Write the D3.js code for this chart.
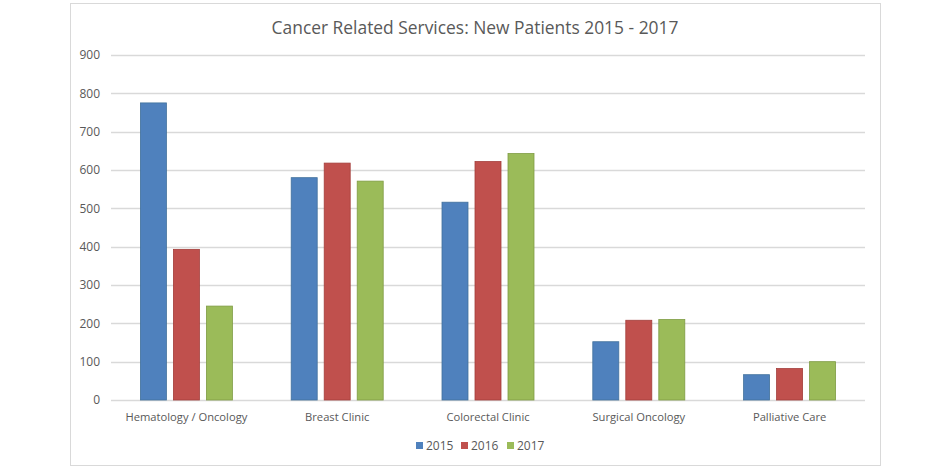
<!DOCTYPE html>
<html><head><meta charset="utf-8">
<script src="https://cdn.jsdelivr.net/npm/d3@7"></script>
<style>body{margin:0;background:#fff;}svg{display:block;font-family:"Open Sans",sans-serif;}</style>
</head><body><svg id="c" width="940" height="470"></svg>
<script>
const categories = ["Hematology / Oncology","Breast Clinic","Colorectal Clinic","Surgical Oncology","Palliative Care"];
const seriesNames = ["2015","2016","2017"];
const values2015 = [775, 580, 516, 152, 66];
const values2016 = [393, 618, 622, 208, 82];
const values2017 = [245, 571, 643, 210, 100];
const yTicks = [0,100,200,300,400,500,600,700,800,900];
const colors = ["#4F81BD","#C0504D","#9BBB59"];
const strokes = ["#41719C","#A33E3B","#7F9C44"];
const seriesValues = [values2015, values2016, values2017];

const svg = d3.select("#c");
svg.append("rect").attr("x",70.5).attr("y",3.5).attr("width",810).attr("height",462).attr("fill","#fff").attr("stroke","#d9d9d9");

const x0 = d3.scaleBand().domain(categories).range([111, 865]).paddingInner(0).paddingOuter(0);
const x1 = d3.scaleBand().domain(seriesNames).range([0, 92]).paddingInner(7/33).paddingOuter(0);
const y = d3.scaleLinear().domain([0,900]).range([400, 55]);

// gridlines
svg.append("g").selectAll("line").data(yTicks).join("line")
  .attr("x1",111).attr("x2",865).attr("y1",d=>Math.round(y(d))+0.5).attr("y2",d=>Math.round(y(d))+0.5)
  .attr("stroke","#d9d9d9").attr("stroke-width",1.3);

// y axis labels
const yAxis = d3.axisLeft(y).tickValues(yTicks).tickSize(0).tickPadding(0);
const ga = svg.append("g").attr("transform","translate(100,0)").call(yAxis);
ga.select(".domain").remove();
ga.selectAll("text").attr("fill","#595959").style("font-size","12px").style("font-family","'Open Sans',sans-serif");

// bars
const groups = svg.append("g").selectAll("g").data(categories).join("g")
  .attr("transform", d => `translate(${x0(d) + (x0.bandwidth()-92)/2},0)`);
groups.selectAll("rect").data((c,i)=>seriesNames.map((s,j)=>({s, j, v: seriesValues[j][i]}))).join("rect")
  .attr("x", d=>x1(d.s)).attr("width", x1.bandwidth())
  .attr("y", d=>y(d.v)).attr("height", d=>y(0)-y(d.v))
  .attr("fill", d=>colors[d.j]).attr("stroke", d=>strokes[d.j]).attr("stroke-width",0.8);

// x axis labels
const xAxis = d3.axisBottom(x0).tickSize(0).tickPadding(0);
const gx = svg.append("g").attr("transform","translate(0,413)").call(xAxis);
gx.select(".domain").remove();
gx.selectAll("text").attr("fill","#595959").style("font-size","11.2px").style("font-family","'Open Sans',sans-serif");

// title
svg.append("text").attr("x",475).attr("y",34).attr("text-anchor","middle")
  .attr("fill","#595959").style("font-size","17.4px").text("Cancer Related Services: New Patients 2015 - 2017");

// legend
const legendX = [416, 461, 507];
const lg = svg.append("g").selectAll("g").data(seriesNames).join("g")
  .attr("transform",(d,i)=>`translate(${legendX[i]},442)`);
lg.append("rect").attr("width",7).attr("height",7).attr("fill",(d,i)=>colors[i]);
lg.append("text").attr("x",10).attr("y",7.5).attr("fill","#595959").style("font-size","12px").text(d=>d);
</script></body></html>
